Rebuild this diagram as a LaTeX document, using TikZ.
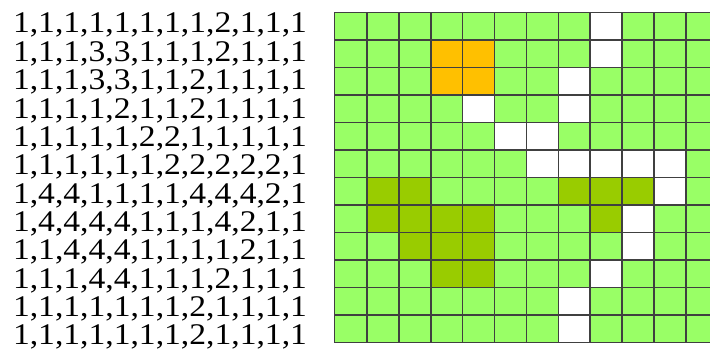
\documentclass[tikz,border=0pt]{standalone}
\usepackage{fontspec}
\setmainfont{Liberation Serif}
\newfontfamily\gridfont[FakeStretch=1.12]{Liberation Serif}
\usetikzlibrary{positioning}
\definecolor{cellgreen}{HTML}{99FF66}
\definecolor{cellorange}{HTML}{FFC000}
\definecolor{cellolive}{HTML}{99CC00}

\begin{document}
\begin{tikzpicture}[
    x=1pt, y=-1pt,
    rowtext/.style={anchor=base, inner sep=0pt, font=\gridfont\fontsize{30}{30}\selectfont},
    cell/.style={rectangle, minimum width=31.9pt, minimum height=27.5pt, inner sep=0pt},
    gridline/.style={draw=black!75, line width=1.2pt},
    val1/.style={fill=cellgreen},
    val2/.style={fill=white},
    val3/.style={fill=cellorange},
    val4/.style={fill=cellolive}
]
\useasboundingbox (0,0) rectangle (710,350);
\clip (0,0) rectangle (710,350);
\foreach \row [count=\r] in {
    {1,1,1,1,1,1,1,1,2,1,1,1},
    {1,1,1,3,3,1,1,1,2,1,1,1},
    {1,1,1,3,3,1,1,2,1,1,1,1},
    {1,1,1,1,2,1,1,2,1,1,1,1},
    {1,1,1,1,1,2,2,1,1,1,1,1},
    {1,1,1,1,1,1,2,2,2,2,2,1},
    {1,4,4,1,1,1,1,4,4,4,2,1},
    {1,4,4,4,4,1,1,1,4,2,1,1},
    {1,1,4,4,4,1,1,1,1,2,1,1},
    {1,1,1,4,4,1,1,1,2,1,1,1},
    {1,1,1,1,1,1,1,2,1,1,1,1},
    {1,1,1,1,1,1,1,2,1,1,1,1}} {
  % matrix row as text
  \node[rowtext] (r\r) at (160, {33+28.36*(\r-1)}) {\row};
  % matching row of cells
  \foreach \v [count=\c] in \row {
    \node[cell, val\v] (c-\r-\c) at ({335+31.9*(\c-0.5)}, {12.5+27.5*(\r-0.5)}) {};
  }
}
\foreach \r in {1,...,12} {
  \foreach \c in {1,...,12} {
    \draw[gridline] (c-\r-\c.south west) rectangle (c-\r-\c.north east);
  }
}
\end{tikzpicture}
\end{document}
